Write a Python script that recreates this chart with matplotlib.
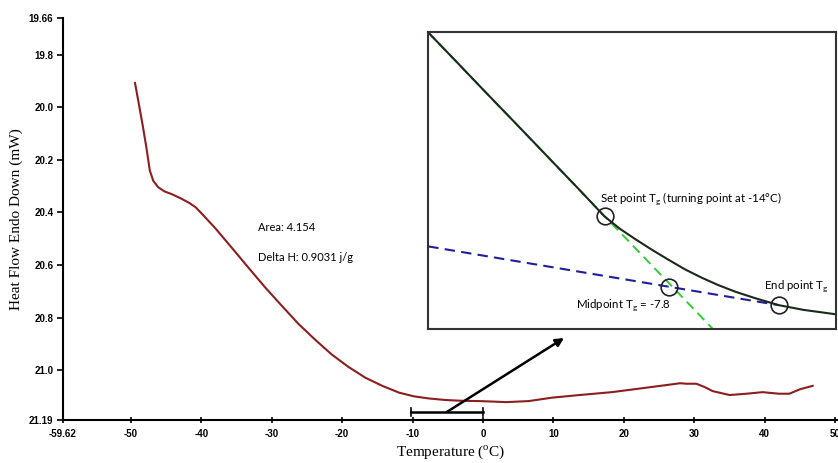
import matplotlib
matplotlib.use("Agg")
import matplotlib.pyplot as plt

# main DSC trace (temperature in C, heat flow in mW)
temp = [-49.4, -48.9, -48.3, -47.8, -47.3, -46.8, -46.1, -45.2, -44.2, -43.0,
        -41.8, -40.8, -39.9, -38.0, -35.7, -33.3, -30.9, -28.5, -26.2, -23.8,
        -21.5, -19.1, -16.7, -14.3, -11.9, -9.8, -7.7, -5.3, -2.9, -0.6,
        1.5, 3.3, 6.5, 9.8, 13.7, 18.3, 23.2, 26.9, 28.0, 28.9,
        30.3, 31.5, 32.6, 35.0, 37.4, 39.7, 42.0, 43.5, 45.0, 46.8]
heat = [19.907, 19.98, 20.07, 20.15, 20.24, 20.28, 20.304, 20.32, 20.33, 20.345,
        20.362, 20.38, 20.405, 20.46, 20.533, 20.61, 20.686, 20.757, 20.824, 20.885,
        20.94, 20.988, 21.029, 21.06, 21.086, 21.10, 21.108, 21.114, 21.117, 21.118,
        21.12, 21.122, 21.118, 21.105, 21.095, 21.084, 21.067, 21.054, 21.05, 21.052,
        21.052, 21.065, 21.08, 21.095, 21.09, 21.084, 21.09, 21.09, 21.073, 21.06]

yticks = [19.66, 19.8, 20.0, 20.2, 20.4, 20.6, 20.8, 21.0, 21.19]
ytick_labels = ["19.66", "19.8", "20.0", "20.2", "20.4", "20.6", "20.8", "21.0", "21.19"]
xticks = [-59.62, -50, -40, -30, -20, -10, 0, 10, 20, 30, 40, 50]
xtick_labels = ["-59.62", "-50", "-40", "-30", "-20", "-10", "0", "10", "20", "30", "40", "50"]

# zoomed inset (relative units 0-100)
ins_u = [0, 7, 14.3, 20, 26.5, 32, 37.1, 43.2, 47, 50.9, 55, 59.0, 63,
         67.1, 71, 75.3, 80, 85.9, 92, 100]
ins_v = [100, 90.0, 79.5, 71.4, 62.1, 54.2, 46.9, 38.0, 33.8, 30.2, 26.6, 23.3, 20.1,
         17.3, 14.9, 12.6, 10.5, 8.1, 6.5, 5.0]
tangent_u = [0, 69.8]
tangent_v = [100, 0]
base_u = [0, 85.9]
base_v = [27.9, 8.1]
pts_u = [43.2, 59.0, 85.9]   # set point, midpoint, end point
pts_v = [38.0, 14.2, 8.1]

fig = plt.figure(figsize=(8.38, 4.63), dpi=100)
ax = fig.add_axes([0.0752, 0.0929, 0.9248, 0.868])

ax.plot(temp, heat, color="#8B1E1E", lw=1.5)
ax.set_xlim(-59.62, 50.4)
ax.set_ylim(21.19, 19.66)
ax.set_xticks(xticks)
ax.set_xticklabels(xtick_labels)
ax.set_yticks(yticks)
ax.set_yticklabels(ytick_labels)
for s in ["top", "right"]:
    ax.spines[s].set_visible(False)
for s in ["left", "bottom"]:
    ax.spines[s].set_linewidth(1.5)
ax.tick_params(axis="x", direction="inout", length=5, width=1.2, pad=4)
ax.tick_params(axis="y", direction="out", length=4, width=1.2, pad=3)
for lab in ax.get_xticklabels() + ax.get_yticklabels():
    lab.set_fontfamily("Liberation Sans")
    lab.set_fontweight("bold")
    lab.set_fontsize(7)

ax.set_xlabel("Temperature ($^{\\mathregular{o}}$C)", family="Liberation Serif",
              fontsize=11, labelpad=3)
ax.set_ylabel("Heat Flow Endo Down (mW)", family="Liberation Serif",
              fontsize=11, labelpad=4)

ax.text(-32.0, 20.458, "Area: 4.154", family="Lato", fontsize=8, va="center")
ax.text(-32.0, 20.572, "Delta H: 0.9031 j/g", family="Lato", fontsize=8, va="center")

# bracket showing zoomed region and arrow to inset
ax.plot([-10.2, 0], [21.159, 21.159], color="black", lw=1.8)
ax.plot([-10.2, -10.2], [21.145, 21.173], color="black", lw=1.2)
ax.plot([0, 0], [21.145, 21.173], color="black", lw=1.2)
ax.annotate("", xy=(11.5, 20.878), xytext=(-5.1, 21.159),
            arrowprops=dict(arrowstyle="-|>", color="black", lw=1.8,
                            mutation_scale=12, shrinkA=0, shrinkB=0))

# inset
ins = fig.add_axes([0.511, 0.289, 0.487, 0.641])
ins.plot(tangent_u, tangent_v, color="#33CC33", lw=1.4, ls=(0, (5, 3)))
ins.plot(base_u, base_v, color="#1F1F99", lw=1.5, ls=(0, (5, 3)))
ins.plot(ins_u, ins_v, color="#1A2A1A", lw=1.5)
ins.plot(pts_u, pts_v, ls="none", marker="o", ms=12, mfc="none", mec="#222222", mew=1.2)
ins.set_xlim(0, 100)
ins.set_ylim(0, 100)
ins.set_xticks([])
ins.set_yticks([])
for s in ins.spines.values():
    s.set_linewidth(1.5)
    s.set_color("#333333")

ins.text(42.0, 44.1, "Set point T$_\\mathregular{g}$ (turning point at -14°C)",
         family="Lato", fontsize=8.3, va="center")
ins.text(36.1, 8.1, "Midpoint T$_\\mathregular{g}$ = -7.8", family="Lato",
         fontsize=8.3, va="center")
ins.text(82.2, 14.5, "End point T$_\\mathregular{g}$", family="Lato",
         fontsize=8.3, va="center")

fig.savefig("out.png", dpi=100)
